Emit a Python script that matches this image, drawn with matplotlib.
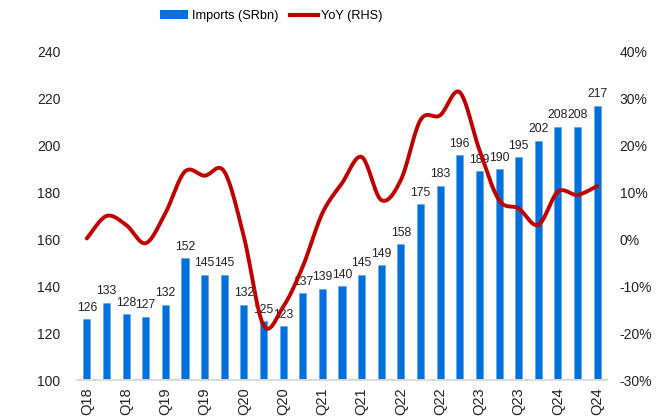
import numpy as np
import matplotlib
matplotlib.use("Agg")
import matplotlib.pyplot as plt
from matplotlib.lines import Line2D
from matplotlib.patches import Patch

plt.rcParams['font.family'] = ['Liberation Sans', 'DejaVu Sans']

# Quarterly imports (SRbn) and year-on-year growth (%)
imports = [126, 133, 128, 127, 132, 152, 145, 145, 132, 125, 123, 137, 139, 140,
           145, 149, 158, 175, 183, 196, 189, 190, 195, 202, 208, 208, 217]
yoy = [0.2, 5.0, 3.1, -0.8, 5.6, 14.5, 13.6, 14.5, 0.6, -18.3, -14.4, -5.8, 5.6, 12.0,
       17.6, 8.4, 12.7, 25.5, 26.5, 31.4, 19.1, 8.4, 6.6, 3.1, 10.2, 9.5, 11.4]
tick_labels = ["Q18", "Q18", "Q19", "Q19", "Q20", "Q20", "Q21", "Q21",
               "Q22", "Q22", "Q23", "Q23", "Q24", "Q24"]

bar_color = "#0070DD"
line_color = "#C00000"


def smooth_curve(x, y, steps=20):
    # Excel-like smoothed line: cubic Bezier through the points (Catmull-Rom tangents)
    x = np.asarray(x, float)
    y = np.asarray(y, float)
    px, py = [], []
    n = len(x)
    for i in range(n - 1):
        x0, y0 = x[max(i - 1, 0)], y[max(i - 1, 0)]
        x1, y1 = x[i], y[i]
        x2, y2 = x[i + 1], y[i + 1]
        x3, y3 = x[min(i + 2, n - 1)], y[min(i + 2, n - 1)]
        c1x, c1y = x1 + (x2 - x0) / 6, y1 + (y2 - y0) / 6
        c2x, c2y = x2 - (x3 - x1) / 6, y2 - (y3 - y1) / 6
        t = np.linspace(0, 1, steps, endpoint=(i == n - 2))
        b0, b1, b2, b3 = (1 - t) ** 3, 3 * t * (1 - t) ** 2, 3 * t ** 2 * (1 - t), t ** 3
        px.extend(b0 * x1 + b1 * c1x + b2 * c2x + b3 * x2)
        py.extend(b0 * y1 + b1 * c1y + b2 * c2y + b3 * y2)
    return np.array(px), np.array(py)


fig = plt.figure(figsize=(6.65, 4.18), dpi=100)
ax = fig.add_axes([0.1158, 0.0909, 0.797, 0.7847])
ax2 = ax.twinx()

x = np.arange(len(imports))
ax.bar(x, imports, width=0.36, color=bar_color, edgecolor="#5aa0e8", linewidth=0.4, zorder=2)
for xi, v in zip(x, imports):
    ax.annotate(str(v), (xi, v), xytext=(0, 4), textcoords="offset points",
                ha="center", va="bottom", fontsize=8.7, color="#222222")

ax.set_xlim(-0.5, len(imports) - 0.5)
ax.set_ylim(100, 240)
ax.set_yticks(range(100, 241, 20))
ax.set_xticks(x[::2])
ax.set_xticklabels(tick_labels, rotation=90, color="#222222")
ax.tick_params(axis="both", length=0)
ax.tick_params(axis="x", pad=5, labelsize=10.5)
ax.tick_params(axis="y", pad=12, labelsize=10)

sx, sy = smooth_curve(x, yoy)
ax2.plot(sx, sy, color=line_color, linewidth=2.8, solid_capstyle="round", zorder=3)
ax2.set_ylim(-30, 40)
ax2.set_yticks(range(-30, 41, 10))
ax2.set_yticklabels([f"{v}%" for v in range(-30, 41, 10)])
ax2.tick_params(axis="y", length=0, pad=9, labelsize=10)

for a in (ax, ax2):
    for s in ("top", "left", "right"):
        a.spines[s].set_visible(False)
    a.spines["bottom"].set_color("#d9d9d9")
    a.spines["bottom"].set_linewidth(1.2)
    for lbl in a.get_yticklabels():
        lbl.set_color("#222222")

handles = [Patch(facecolor=bar_color, label="Imports (SRbn)"),
           Line2D([0], [0], color=line_color, linewidth=3, label="YoY (RHS)")]
fig.legend(handles=handles, loc="center", bbox_to_anchor=(0.408, 0.962), ncol=2,
           frameon=False, fontsize=9.2, handlelength=2.2, handleheight=0.65,
           columnspacing=0.9, handletextpad=0.25)

fig.savefig("out.png", dpi=100)
